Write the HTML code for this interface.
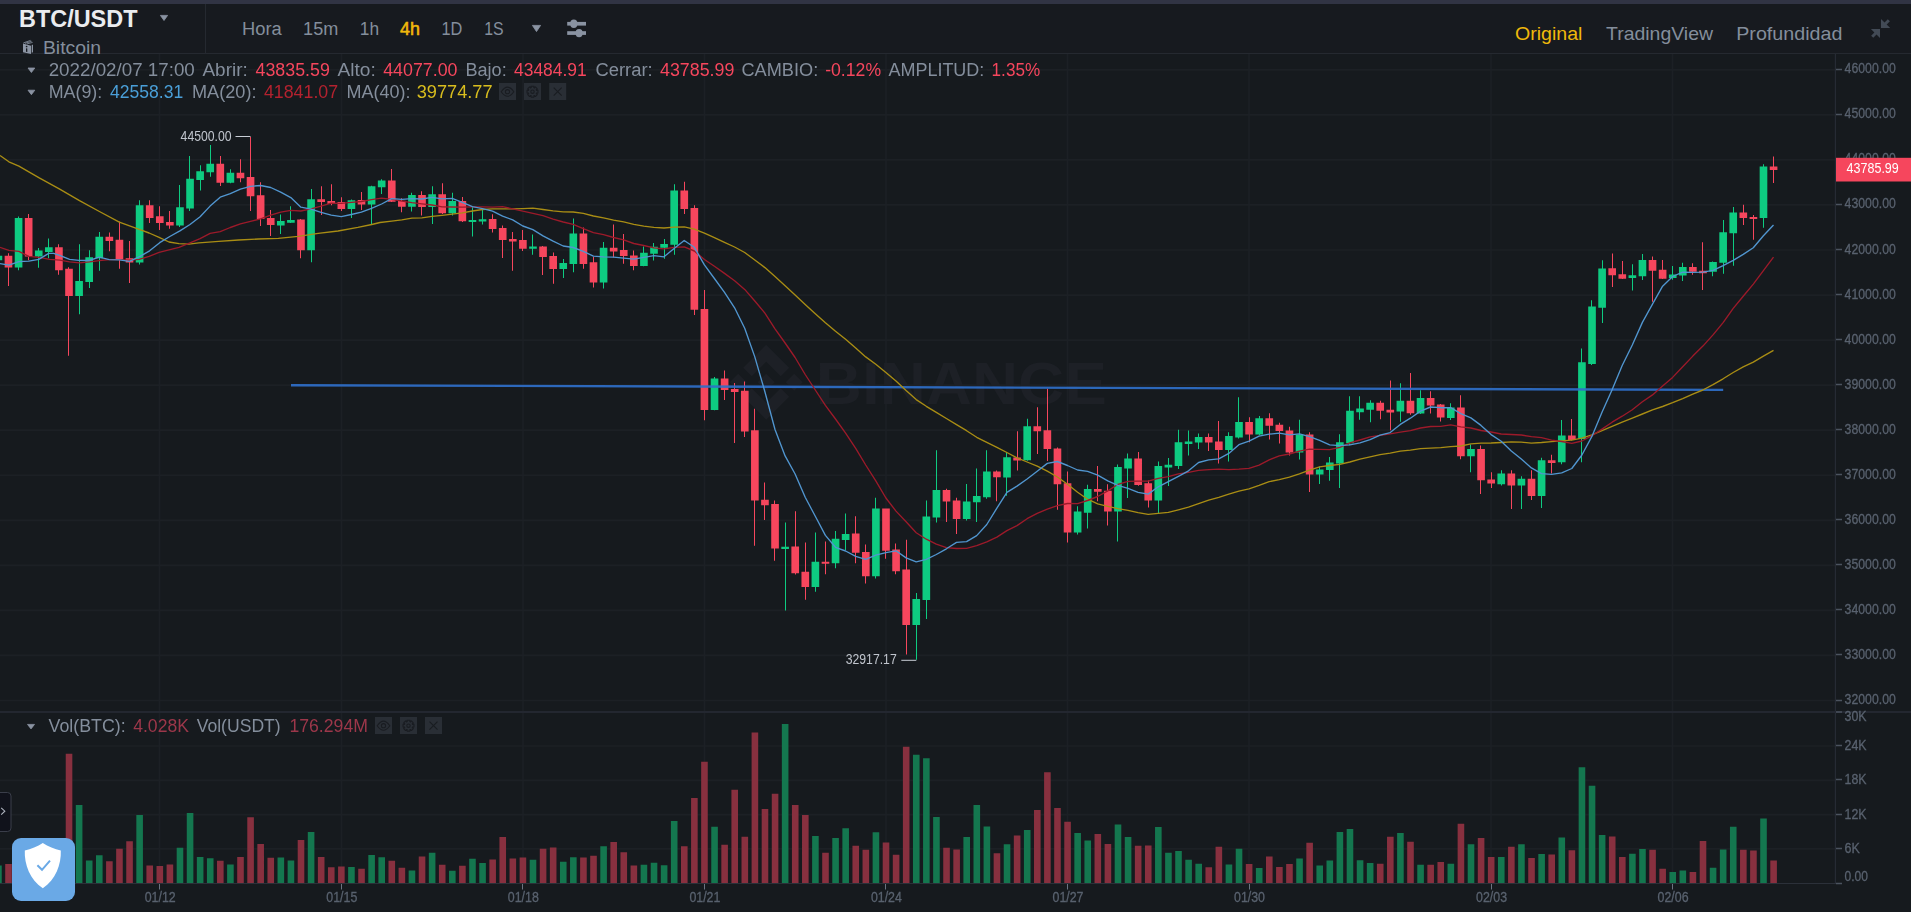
<!DOCTYPE html><html><head><meta charset="utf-8"><title>BTC/USDT</title><style>html,body{margin:0;padding:0;background:#161a1e;overflow:hidden}#c{will-change:transform}</style></head><body><svg width="1911" height="54" viewBox="0 0 1911 54" style="display:block" font-family="Liberation Sans, sans-serif">
<rect width="1911" height="54" fill="#171a1f"/>
<rect width="1911" height="4" fill="#313444"/>
<rect x="0" y="53" width="1911" height="1" fill="#252930"/>
<text x="19.0" y="26.7" font-size="24.5" fill="#eaecef" textLength="118.5" lengthAdjust="spacingAndGlyphs" font-weight="bold" >BTC/USDT</text>
<path d="M160.4 15.4L167.6 15.4L164.0 20.5Z" fill="#8a93a2" stroke="#8a93a2" stroke-width="0.8" stroke-linejoin="round"/>
<g fill="#8c95a4"><path d="M23 43.5L31 45.7V54L23 52.2Z"/><path d="M31.7 45.2L33 44.6V52.2L31.7 52.8Z"/></g><g stroke="#8c95a4" stroke-width="0.8" fill="none"><path d="M23.4 42.9L30.6 40.4M25 43.3L31.6 41.3M27 43.9L32.6 42.4"/></g><circle cx="26.6" cy="46.5" r="0.85" fill="#171a1f"/><path d="M26 48.2L27.3 48.5V52L26 51.7Z" fill="#171a1f"/>
<text x="42.9" y="53.9" font-size="18.4" fill="#848e9c" textLength="58.2" lengthAdjust="spacingAndGlyphs" >Bitcoin</text>
<rect x="205" y="4" width="1" height="49.5" fill="#252930"/>
<text x="242.0" y="35.4" font-size="18" fill="#848e9c" textLength="39.7" lengthAdjust="spacingAndGlyphs" >Hora</text>
<text x="303.1" y="35.4" font-size="18" fill="#848e9c" textLength="35.2" lengthAdjust="spacingAndGlyphs" >15m</text>
<text x="359.8" y="35.4" font-size="18" fill="#848e9c" textLength="19.3" lengthAdjust="spacingAndGlyphs" >1h</text>
<text x="400.0" y="35.4" font-size="18" fill="#f0b90b" textLength="19.9" lengthAdjust="spacingAndGlyphs" stroke="#f0b90b" stroke-width="0.55">4h</text>
<text x="441.5" y="35.4" font-size="18" fill="#848e9c" textLength="20.9" lengthAdjust="spacingAndGlyphs" >1D</text>
<text x="484.2" y="35.4" font-size="18" fill="#848e9c" textLength="19.4" lengthAdjust="spacingAndGlyphs" >1S</text>
<path d="M532.4 25.4L540.6 25.4L536.5 31.6Z" fill="#8a93a2" stroke="#8a93a2" stroke-width="0.8" stroke-linejoin="round"/>
<g fill="#8a93a2"><rect x="567.2" y="21.9" width="18.8" height="3.7"/><rect x="567.2" y="31.2" width="18.8" height="3.7"/><ellipse cx="573.8" cy="23.7" rx="3.6" ry="4.2"/><ellipse cx="579.1" cy="33.1" rx="3.6" ry="4.2"/></g>
<text x="1515.0" y="40.4" font-size="19" fill="#f0b90b" textLength="67.4" lengthAdjust="spacingAndGlyphs" >Original</text>
<text x="1606.0" y="40.4" font-size="19" fill="#848e9c" textLength="107.0" lengthAdjust="spacingAndGlyphs" >TradingView</text>
<text x="1736.2" y="40.4" font-size="19" fill="#848e9c" textLength="106.2" lengthAdjust="spacingAndGlyphs" >Profundidad</text>
<g fill="#424a55"><path d="M1881 18.9L1884.54 22.44L1887.79 19.19L1889.91 21.31L1886.66 24.56L1890.2 28H1881Z"/><path d="M1880 38.1L1876.51 34.61L1873.26 37.86L1871.14 35.74L1874.39 32.49L1870.9 29H1880Z"/></g>
</svg>
<svg id="c" width="1911" height="858" viewBox="0 54 1911 858" style="display:block" font-family="Liberation Sans, sans-serif">
<rect y="54" width="1911" height="858" fill="#161a1e"/>
<path d="M0 700.5H1835M0 655.45H1835M0 610.4H1835M0 565.35H1835M0 520.3H1835M0 475.25H1835M0 430.2H1835M0 385.15H1835M0 340.1H1835M0 295.05H1835M0 250.0H1835M0 204.95H1835M0 159.9H1835M0 114.85H1835M0 69.8H1835M0 848.9H1835M0 814.6H1835M0 780.3H1835M0 746.0H1835M159.5 54V883M341.5 54V883M523.0 54V883M704.5 54V883M886.0 54V883M1067.5 54V883M1249.0 54V883M1491.0 54V883M1672.5 54V883" stroke="#1c2025" stroke-width="1.7" fill="none"/>
<rect x="0" y="711" width="1911" height="2" fill="#232730"/>
<rect x="1834.8" y="54" width="1.2" height="830" fill="#262b34"/>
<rect x="0" y="883" width="1842" height="1" fill="#2b3039"/>
<g fill="#1d2026">
<path d="M766.2 373.7L774.7 382.2L766.2 390.7L757.7 382.2ZM738.2 373.7L746.7 382.2L738.2 390.7L729.7 382.2ZM794.2 373.7L802.7 382.2L794.2 390.7L785.7 382.2Z"/>
<path d="M766.2 344.7L789.2 367.7L780.7 376.2L766.2 361.7L751.7 376.2L743.2 367.7Z"/>
<path d="M766.2 419.7L789.2 396.7L780.7 388.2L766.2 402.7L751.7 388.2L743.2 396.7Z"/>
</g>
<text x="815.8" y="403.6" font-size="60" fill="#1d2026" textLength="291.0" lengthAdjust="spacingAndGlyphs" font-weight="bold" >BINANCE</text>
<path d="M5.21 864.1H11.81V883H5.21ZM25.39 858.2H31.99V883H25.39ZM55.65 862.1H62.25V883H55.65ZM65.73 753.8H72.33V883H65.73ZM106.08 861.2H112.68V883H106.08ZM116.16 848.8H122.76V883H116.16ZM126.25 841.3H132.85V883H126.25ZM146.42 865.5H153.02V883H146.42ZM156.51 866.1H163.11V883H156.51ZM166.59 864.5H173.19V883H166.59ZM217.02 860.8H223.62V883H217.02ZM237.20 857.0H243.80V883H237.20ZM247.28 817.2H253.88V883H247.28ZM257.37 843.9H263.97V883H257.37ZM267.46 857.8H274.06V883H267.46ZM297.71 839.9H304.31V883H297.71ZM317.89 857.0H324.49V883H317.89ZM327.97 867.3H334.57V883H327.97ZM338.06 866.5H344.66V883H338.06ZM358.23 868.7H364.83V883H358.23ZM388.49 860.8H395.09V883H388.49ZM398.58 867.7H405.18V883H398.58ZM418.75 856.6H425.35V883H418.75ZM438.92 864.7H445.52V883H438.92ZM459.09 865.7H465.69V883H459.09ZM489.35 859.6H495.95V883H489.35ZM499.44 836.9H506.04V883H499.44ZM509.52 858.6H516.12V883H509.52ZM519.61 857.4H526.21V883H519.61ZM539.78 848.8H546.38V883H539.78ZM549.87 847.6H556.47V883H549.87ZM580.13 857.6H586.73V883H580.13ZM590.21 855.8H596.81V883H590.21ZM610.39 841.9H616.99V883H610.39ZM620.47 852.2H627.07V883H620.47ZM630.56 865.5H637.16V883H630.56ZM680.99 846.2H687.59V883H680.99ZM691.08 797.9H697.68V883H691.08ZM701.16 761.7H707.76V883H701.16ZM721.33 844.8H727.93V883H721.33ZM731.42 789.8H738.02V883H731.42ZM741.51 836.7H748.11V883H741.51ZM751.59 732.5H758.19V883H751.59ZM761.68 809.1H768.28V883H761.68ZM771.77 793.7H778.37V883H771.77ZM791.94 804.9H798.54V883H791.94ZM802.02 815.0H808.62V883H802.02ZM822.20 852.8H828.80V883H822.20ZM852.45 845.8H859.05V883H852.45ZM862.54 849.8H869.14V883H862.54ZM882.71 842.5H889.31V883H882.71ZM892.80 854.8H899.40V883H892.80ZM902.89 746.8H909.49V883H902.89ZM943.23 847.8H949.83V883H943.23ZM953.32 849.4H959.92V883H953.32ZM993.66 853.2H1000.26V883H993.66ZM1013.83 835.5H1020.43V883H1013.83ZM1034.01 810.0H1040.61V883H1034.01ZM1044.09 772.3H1050.69V883H1044.09ZM1054.18 808.1H1060.78V883H1054.18ZM1064.27 821.8H1070.87V883H1064.27ZM1094.52 833.9H1101.12V883H1094.52ZM1104.61 843.9H1111.21V883H1104.61ZM1134.87 845.8H1141.47V883H1134.87ZM1144.95 845.6H1151.55V883H1144.95ZM1205.47 867.3H1212.07V883H1205.47ZM1215.56 846.8H1222.16V883H1215.56ZM1245.82 863.9H1252.42V883H1245.82ZM1265.99 856.6H1272.59V883H1265.99ZM1276.08 866.9H1282.68V883H1276.08ZM1286.16 864.1H1292.76V883H1286.16ZM1306.33 842.7H1312.93V883H1306.33ZM1376.94 863.7H1383.54V883H1376.94ZM1387.02 836.7H1393.62V883H1387.02ZM1407.20 841.7H1413.80V883H1407.20ZM1427.37 864.7H1433.97V883H1427.37ZM1437.45 861.9H1444.05V883H1437.45ZM1457.63 823.8H1464.23V883H1457.63ZM1477.80 837.9H1484.40V883H1477.80ZM1487.89 857.0H1494.49V883H1487.89ZM1508.06 846.8H1514.66V883H1508.06ZM1528.23 858.0H1534.83V883H1528.23ZM1548.40 854.6H1555.00V883H1548.40ZM1568.58 850.2H1575.18V883H1568.58ZM1608.92 836.5H1615.52V883H1608.92ZM1619.01 857.0H1625.61V883H1619.01ZM1649.26 849.8H1655.86V883H1649.26ZM1659.35 868.7H1665.95V883H1659.35ZM1689.61 871.9H1696.21V883H1689.61ZM1699.70 841.1H1706.30V883H1699.70ZM1740.04 849.8H1746.64V883H1740.04ZM1750.13 850.6H1756.73V883H1750.13ZM1770.30 860.4H1776.90V883H1770.30Z" fill="#88303f"/>
<path d="M-4.87 865.5H1.73V883H-4.87ZM15.30 854.2H21.90V883H15.30ZM35.47 866.1H42.07V883H35.47ZM45.56 868.1H52.16V883H45.56ZM75.82 805.1H82.42V883H75.82ZM85.90 860.6H92.50V883H85.90ZM95.99 855.2H102.59V883H95.99ZM136.33 815.0H142.93V883H136.33ZM176.68 847.8H183.28V883H176.68ZM186.77 813.0H193.37V883H186.77ZM196.85 857.0H203.45V883H196.85ZM206.94 858.2H213.54V883H206.94ZM227.11 864.5H233.71V883H227.11ZM277.54 857.6H284.14V883H277.54ZM287.63 860.6H294.23V883H287.63ZM307.80 831.9H314.40V883H307.80ZM348.14 867.1H354.74V883H348.14ZM368.32 855.0H374.92V883H368.32ZM378.40 857.2H385.00V883H378.40ZM408.66 870.5H415.26V883H408.66ZM428.83 852.8H435.43V883H428.83ZM449.01 870.7H455.61V883H449.01ZM469.18 858.8H475.78V883H469.18ZM479.27 863.1H485.87V883H479.27ZM529.70 859.8H536.30V883H529.70ZM559.96 861.7H566.56V883H559.96ZM570.04 857.2H576.64V883H570.04ZM600.30 846.2H606.90V883H600.30ZM640.64 864.7H647.24V883H640.64ZM650.73 862.7H657.33V883H650.73ZM660.82 865.3H667.42V883H660.82ZM670.90 821.0H677.50V883H670.90ZM711.25 826.8H717.85V883H711.25ZM781.85 723.9H788.45V883H781.85ZM812.11 835.9H818.71V883H812.11ZM832.28 837.9H838.88V883H832.28ZM842.37 828.3H848.97V883H842.37ZM872.63 832.3H879.23V883H872.63ZM912.97 754.8H919.57V883H912.97ZM923.06 758.3H929.66V883H923.06ZM933.14 817.0H939.74V883H933.14ZM963.40 836.9H970.00V883H963.40ZM973.49 805.1H980.09V883H973.49ZM983.58 826.4H990.18V883H983.58ZM1003.75 844.3H1010.35V883H1003.75ZM1023.92 829.9H1030.52V883H1023.92ZM1074.35 832.9H1080.95V883H1074.35ZM1084.44 840.5H1091.04V883H1084.44ZM1114.70 824.4H1121.30V883H1114.70ZM1124.78 836.9H1131.38V883H1124.78ZM1155.04 827.0H1161.64V883H1155.04ZM1165.13 852.8H1171.73V883H1165.13ZM1175.21 851.0H1181.81V883H1175.21ZM1185.30 859.8H1191.90V883H1185.30ZM1195.39 863.7H1201.99V883H1195.39ZM1225.64 864.5H1232.24V883H1225.64ZM1235.73 848.8H1242.33V883H1235.73ZM1255.90 867.9H1262.50V883H1255.90ZM1296.25 858.4H1302.85V883H1296.25ZM1316.42 865.5H1323.02V883H1316.42ZM1326.51 860.6H1333.11V883H1326.51ZM1336.59 831.9H1343.19V883H1336.59ZM1346.68 828.9H1353.28V883H1346.68ZM1356.76 860.2H1363.37V883H1356.76ZM1366.85 862.9H1373.45V883H1366.85ZM1397.11 832.9H1403.71V883H1397.11ZM1417.28 864.7H1423.88V883H1417.28ZM1447.54 863.7H1454.14V883H1447.54ZM1467.71 844.3H1474.31V883H1467.71ZM1497.97 857.0H1504.57V883H1497.97ZM1518.14 844.3H1524.74V883H1518.14ZM1538.32 854.0H1544.92V883H1538.32ZM1558.49 837.5H1565.09V883H1558.49ZM1578.66 767.3H1585.26V883H1578.66ZM1588.75 785.8H1595.35V883H1588.75ZM1598.83 835.1H1605.43V883H1598.83ZM1629.09 853.8H1635.69V883H1629.09ZM1639.18 849.0H1645.78V883H1639.18ZM1669.44 871.9H1676.04V883H1669.44ZM1679.52 870.5H1686.12V883H1679.52ZM1709.78 867.7H1716.38V883H1709.78ZM1719.87 849.6H1726.47V883H1719.87ZM1729.95 826.8H1736.55V883H1729.95ZM1760.21 818.4H1766.81V883H1760.21Z" fill="#14774f"/>
<path d="M8 253.3h1V286.1h-1Z M4.66 255.7h7.65V267.6h-7.65ZM28 214.1h1V260.2h-1Z M24.84 218.1h7.65V256.5h-7.65ZM58 244.3h1V274.8h-1Z M55.10 247.3h7.65V270.2h-7.65ZM68 267.2h1V355.7h-1Z M65.18 268.8h7.65V296.0h-7.65ZM109 232.4h1V251.3h-1Z M105.53 236.8h7.65V241.0h-7.65ZM119 221.5h1V268.8h-1Z M115.61 239.8h7.65V259.3h-7.65ZM129 241.0h1V283.1h-1Z M125.70 258.3h7.65V262.6h-7.65ZM149 200.2h1V223.1h-1Z M145.87 205.2h7.65V217.9h-7.65ZM159 206.2h1V230.0h-1Z M155.96 216.3h7.65V223.1h-7.65ZM169 210.9h1V228.8h-1Z M166.04 221.9h7.65V225.4h-7.65ZM220 155.9h1V186.1h-1Z M216.47 163.8h7.65V182.7h-7.65ZM240 159.2h1V182.3h-1Z M236.65 172.8h7.65V178.3h-7.65ZM250 137.0h1V210.9h-1Z M246.73 177.1h7.65V196.2h-7.65ZM260 182.3h1V226.0h-1Z M256.82 195.2h7.65V218.9h-7.65ZM270 210.1h1V236.0h-1Z M266.91 217.9h7.65V225.0h-7.65ZM300 218.9h1V258.3h-1Z M297.16 219.5h7.65V250.3h-7.65ZM321 186.3h1V215.1h-1Z M317.34 199.2h7.65V202.0h-7.65ZM331 184.3h1V205.2h-1Z M327.42 201.0h7.65V204.0h-7.65ZM341 197.2h1V211.1h-1Z M337.51 202.0h7.65V208.9h-7.65ZM361 192.0h1V210.1h-1Z M357.68 200.0h7.65V204.6h-7.65ZM391 168.9h1V202.1h-1Z M387.94 180.4h7.65V201.7h-7.65ZM401 198.3h1V212.2h-1Z M398.03 200.7h7.65V206.7h-7.65ZM421 191.2h1V215.6h-1Z M418.20 195.1h7.65V207.1h-7.65ZM442 183.2h1V214.0h-1Z M438.37 194.3h7.65V213.2h-7.65ZM462 197.1h1V222.0h-1Z M458.54 201.1h7.65V221.2h-7.65ZM492 214.2h1V232.5h-1Z M488.80 219.0h7.65V228.9h-7.65ZM502 225.6h1V258.0h-1Z M498.89 227.9h7.65V239.9h-7.65ZM512 232.1h1V270.7h-1Z M508.97 238.9h7.65V241.5h-7.65ZM522 230.1h1V251.0h-1Z M519.06 240.1h7.65V248.8h-7.65ZM542 246.0h1V274.9h-1Z M539.23 246.4h7.65V257.0h-7.65ZM553 252.4h1V283.8h-1Z M549.32 256.0h7.65V268.9h-7.65ZM583 227.6h1V268.7h-1Z M579.58 233.5h7.65V263.9h-7.65ZM593 256.8h1V287.6h-1Z M589.66 262.3h7.65V282.6h-7.65ZM613 224.6h1V257.4h-1Z M609.84 247.8h7.65V251.4h-7.65ZM623 233.9h1V263.7h-1Z M619.92 250.0h7.65V256.0h-7.65ZM633 250.4h1V270.3h-1Z M630.01 255.4h7.65V265.9h-7.65ZM684 181.8h1V214.0h-1Z M680.44 190.4h7.65V209.1h-7.65ZM694 205.3h1V315.0h-1Z M690.53 208.1h7.65V309.7h-7.65ZM704 290.0h1V420.2h-1Z M700.61 308.9h7.65V409.9h-7.65ZM724 370.5h1V400.0h-1Z M720.78 378.5h7.65V390.0h-7.65ZM734 383.1h1V443.1h-1Z M730.87 389.0h7.65V392.0h-7.65ZM744 381.5h1V437.1h-1Z M740.96 390.8h7.65V431.6h-7.65ZM754 408.7h1V545.8h-1Z M751.04 430.2h7.65V500.6h-7.65ZM764 482.4h1V520.1h-1Z M761.13 499.7h7.65V505.2h-7.65ZM774 500.6h1V560.7h-1Z M771.22 504.0h7.65V548.4h-7.65ZM795 511.2h1V574.6h-1Z M791.39 546.4h7.65V573.2h-7.65ZM805 542.4h1V599.7h-1Z M801.47 571.8h7.65V587.1h-7.65ZM825 541.4h1V574.2h-1Z M821.65 561.7h7.65V563.7h-7.65ZM855 516.2h1V563.3h-1Z M851.90 533.5h7.65V552.7h-7.65ZM865 544.4h1V583.6h-1Z M861.99 552.0h7.65V576.2h-7.65ZM885 508.6h1V558.7h-1Z M882.16 508.6h7.65V550.8h-7.65ZM895 543.4h1V574.2h-1Z M892.25 549.4h7.65V571.2h-7.65ZM906 539.8h1V654.4h-1Z M902.34 569.6h7.65V624.9h-7.65ZM946 488.7h1V522.1h-1Z M942.68 490.1h7.65V501.6h-7.65ZM956 497.7h1V533.9h-1Z M952.77 500.6h7.65V518.9h-7.65ZM996 470.4h1V501.2h-1Z M993.11 471.4h7.65V477.2h-7.65ZM1017 431.2h1V470.4h-1Z M1013.28 457.5h7.65V460.5h-7.65ZM1037 407.3h1V454.0h-1Z M1033.46 426.2h7.65V431.2h-7.65ZM1047 388.8h1V461.0h-1Z M1043.54 430.2h7.65V449.1h-7.65ZM1057 447.6h1V509.8h-1Z M1053.63 448.5h7.65V484.3h-7.65ZM1067 471.4h1V542.6h-1Z M1063.72 483.3h7.65V532.5h-7.65ZM1097 466.0h1V501.2h-1Z M1093.97 488.9h7.65V491.7h-7.65ZM1107 484.3h1V525.5h-1Z M1104.06 490.7h7.65V511.6h-7.65ZM1138 452.1h1V485.7h-1Z M1134.32 458.5h7.65V484.9h-7.65ZM1148 480.4h1V507.6h-1Z M1144.40 483.3h7.65V500.6h-7.65ZM1208 433.6h1V450.9h-1Z M1204.92 437.0h7.65V442.6h-7.65ZM1218 421.1h1V463.5h-1Z M1215.01 441.6h7.65V450.1h-7.65ZM1249 417.3h1V442.2h-1Z M1245.27 422.1h7.65V434.6h-7.65ZM1269 413.3h1V439.6h-1Z M1265.44 418.3h7.65V425.7h-7.65ZM1279 422.7h1V443.6h-1Z M1275.53 424.7h7.65V431.0h-7.65ZM1289 426.7h1V455.5h-1Z M1285.61 430.6h7.65V452.5h-7.65ZM1309 432.2h1V491.9h-1Z M1305.78 434.6h7.65V474.4h-7.65ZM1380 400.8h1V419.3h-1Z M1376.39 402.8h7.65V410.8h-7.65ZM1390 380.5h1V430.3h-1Z M1386.47 409.8h7.65V412.4h-7.65ZM1410 373.0h1V414.7h-1Z M1406.65 400.8h7.65V413.3h-7.65ZM1430 391.3h1V413.6h-1Z M1426.82 398.1h7.65V405.6h-7.65ZM1440 404.0h1V421.5h-1Z M1436.90 404.6h7.65V417.6h-7.65ZM1460 395.3h1V459.3h-1Z M1457.08 407.6h7.65V456.3h-7.65ZM1480 445.4h1V494.1h-1Z M1477.25 449.0h7.65V480.2h-7.65ZM1491 472.2h1V488.1h-1Z M1487.34 479.6h7.65V483.6h-7.65ZM1511 470.2h1V509.0h-1Z M1507.51 473.6h7.65V485.6h-7.65ZM1531 470.2h1V500.1h-1Z M1527.68 478.8h7.65V496.1h-7.65ZM1551 454.7h1V473.6h-1Z M1547.85 460.3h7.65V462.9h-7.65ZM1571 419.1h1V440.4h-1Z M1568.03 435.4h7.65V440.0h-7.65ZM1612 253.5h1V287.0h-1Z M1608.37 268.3h7.65V275.2h-7.65ZM1622 261.0h1V279.1h-1Z M1618.46 274.2h7.65V278.7h-7.65ZM1652 256.4h1V301.8h-1Z M1648.71 260.0h7.65V270.8h-7.65ZM1662 260.0h1V279.1h-1Z M1658.80 269.7h7.65V278.7h-7.65ZM1692 263.3h1V274.8h-1Z M1689.06 266.9h7.65V271.8h-7.65ZM1702 242.2h1V290.0h-1Z M1699.15 270.8h7.65V273.2h-7.65ZM1743 204.7h1V224.9h-1Z M1739.49 212.4h7.65V218.0h-7.65ZM1753 215.0h1V239.7h-1Z M1749.58 217.0h7.65V218.9h-7.65ZM1773 156.4h1V183.0h-1Z M1769.75 166.6h7.65V170.0h-7.65Z" fill="#f6465d"/>
<path d="M-2 255.7h1V260.2h-1Z M-5.42 255.7h7.65V260.2h-7.65ZM18 216.5h1V270.2h-1Z M14.75 218.1h7.65V267.6h-7.65ZM38 247.9h1V267.8h-1Z M34.92 250.5h7.65V256.5h-7.65ZM48 238.4h1V258.3h-1Z M45.01 247.3h7.65V252.1h-7.65ZM79 244.3h1V314.3h-1Z M75.27 281.1h7.65V296.0h-7.65ZM89 250.3h1V288.1h-1Z M85.35 257.3h7.65V282.1h-7.65ZM99 232.0h1V270.8h-1Z M95.44 236.8h7.65V258.3h-7.65ZM139 200.2h1V264.6h-1Z M135.78 205.2h7.65V262.6h-7.65ZM179 185.1h1V227.0h-1Z M176.13 207.2h7.65V225.4h-7.65ZM189 155.9h1V210.9h-1Z M186.22 178.7h7.65V208.5h-7.65ZM200 165.2h1V190.6h-1Z M196.30 171.2h7.65V180.1h-7.65ZM210 144.9h1V176.7h-1Z M206.39 163.8h7.65V172.2h-7.65ZM230 169.2h1V183.3h-1Z M226.56 172.8h7.65V182.7h-7.65ZM280 214.5h1V234.0h-1Z M276.99 221.1h7.65V225.4h-7.65ZM290 206.2h1V223.1h-1Z M287.08 219.9h7.65V222.7h-7.65ZM311 189.1h1V262.2h-1Z M307.25 199.2h7.65V250.3h-7.65ZM351 199.6h1V217.9h-1Z M347.59 200.2h7.65V208.9h-7.65ZM371 185.7h1V224.5h-1Z M367.77 186.3h7.65V204.6h-7.65ZM381 179.2h1V194.1h-1Z M377.85 180.4h7.65V187.2h-7.65ZM411 192.8h1V211.6h-1Z M408.11 195.1h7.65V206.7h-7.65ZM432 186.2h1V224.0h-1Z M428.28 194.3h7.65V207.1h-7.65ZM452 192.8h1V215.6h-1Z M448.46 201.1h7.65V213.2h-7.65ZM472 206.3h1V236.5h-1Z M468.63 220.0h7.65V222.0h-7.65ZM482 208.7h1V224.6h-1Z M478.72 219.2h7.65V221.6h-7.65ZM532 234.5h1V254.8h-1Z M529.15 246.4h7.65V248.8h-7.65ZM563 259.0h1V277.9h-1Z M559.41 262.9h7.65V268.9h-7.65ZM573 218.6h1V272.3h-1Z M569.49 233.5h7.65V263.9h-7.65ZM603 241.9h1V288.6h-1Z M599.75 247.8h7.65V282.6h-7.65ZM643 246.4h1V266.3h-1Z M640.09 252.8h7.65V265.9h-7.65ZM653 243.1h1V260.4h-1Z M650.18 246.8h7.65V253.8h-7.65ZM664 239.1h1V258.8h-1Z M660.27 243.9h7.65V247.8h-7.65ZM674 184.2h1V254.8h-1Z M670.35 190.4h7.65V244.8h-7.65ZM714 376.9h1V410.3h-1Z M710.70 378.5h7.65V409.9h-7.65ZM785 522.5h1V610.4h-1Z M781.30 546.8h7.65V549.0h-7.65ZM815 532.5h1V591.7h-1Z M811.56 561.7h7.65V587.1h-7.65ZM835 531.1h1V568.3h-1Z M831.73 538.8h7.65V563.3h-7.65ZM845 513.6h1V550.0h-1Z M841.82 533.9h7.65V540.0h-7.65ZM875 497.7h1V578.6h-1Z M872.08 508.6h7.65V576.2h-7.65ZM916 593.0h1V659.8h-1Z M912.42 599.1h7.65V624.9h-7.65ZM926 500.6h1V619.0h-1Z M922.51 516.6h7.65V600.1h-7.65ZM936 450.3h1V522.5h-1Z M932.59 490.1h7.65V517.6h-7.65ZM966 484.1h1V520.5h-1Z M962.85 501.6h7.65V519.1h-7.65ZM976 468.4h1V521.9h-1Z M972.94 496.1h7.65V502.2h-7.65ZM986 450.3h1V498.7h-1Z M983.03 471.4h7.65V497.3h-7.65ZM1006 451.9h1V495.7h-1Z M1003.20 457.3h7.65V477.4h-7.65ZM1027 418.7h1V460.7h-1Z M1023.37 426.2h7.65V460.3h-7.65ZM1077 506.2h1V534.4h-1Z M1073.80 511.6h7.65V532.5h-7.65ZM1087 484.7h1V528.5h-1Z M1083.89 488.9h7.65V512.8h-7.65ZM1117 464.5h1V541.4h-1Z M1114.15 467.0h7.65V511.6h-7.65ZM1127 453.5h1V497.9h-1Z M1124.23 458.5h7.65V468.4h-7.65ZM1158 461.5h1V513.2h-1Z M1154.49 466.0h7.65V500.6h-7.65ZM1168 458.1h1V485.9h-1Z M1164.58 464.8h7.65V467.4h-7.65ZM1178 429.7h1V469.0h-1Z M1174.66 442.2h7.65V466.0h-7.65ZM1188 430.6h1V455.5h-1Z M1184.75 441.6h7.65V444.0h-7.65ZM1198 433.6h1V448.9h-1Z M1194.84 437.0h7.65V442.6h-7.65ZM1228 432.2h1V461.5h-1Z M1225.09 436.0h7.65V450.1h-7.65ZM1238 397.2h1V438.6h-1Z M1235.18 422.1h7.65V437.6h-7.65ZM1259 416.1h1V435.2h-1Z M1255.35 418.3h7.65V434.6h-7.65ZM1299 419.7h1V459.5h-1Z M1295.70 434.6h7.65V452.5h-7.65ZM1319 466.4h1V483.9h-1Z M1315.87 469.4h7.65V474.4h-7.65ZM1329 456.9h1V480.8h-1Z M1325.96 462.5h7.65V470.0h-7.65ZM1339 434.2h1V487.9h-1Z M1336.04 442.2h7.65V463.5h-7.65ZM1349 396.2h1V445.2h-1Z M1346.13 410.8h7.65V443.2h-7.65ZM1359 396.2h1V419.7h-1Z M1356.21 408.4h7.65V412.2h-7.65ZM1370 400.2h1V422.3h-1Z M1366.30 402.8h7.65V409.8h-7.65ZM1400 383.3h1V421.7h-1Z M1396.56 400.8h7.65V411.4h-7.65ZM1420 390.3h1V414.0h-1Z M1416.73 398.1h7.65V413.6h-7.65ZM1450 403.2h1V420.1h-1Z M1446.99 407.6h7.65V417.9h-7.65ZM1470 444.4h1V472.2h-1Z M1467.16 449.0h7.65V456.3h-7.65ZM1501 470.2h1V485.6h-1Z M1497.42 473.6h7.65V484.2h-7.65ZM1521 476.2h1V509.0h-1Z M1517.59 478.8h7.65V485.6h-7.65ZM1541 457.7h1V508.0h-1Z M1537.77 460.3h7.65V496.1h-7.65ZM1561 420.1h1V464.3h-1Z M1557.94 435.4h7.65V462.3h-7.65ZM1581 348.4h1V462.3h-1Z M1578.11 362.3h7.65V439.0h-7.65ZM1591 300.3h1V365.1h-1Z M1588.20 306.6h7.65V364.1h-7.65ZM1602 260.3h1V323.0h-1Z M1598.28 268.4h7.65V307.8h-7.65ZM1632 264.3h1V290.6h-1Z M1628.54 275.2h7.65V278.1h-7.65ZM1642 254.1h1V280.1h-1Z M1638.63 260.0h7.65V276.2h-7.65ZM1672 265.9h1V279.7h-1Z M1668.89 274.6h7.65V278.1h-7.65ZM1682 262.8h1V281.1h-1Z M1678.97 266.9h7.65V275.6h-7.65ZM1712 261.4h1V276.2h-1Z M1709.23 262.0h7.65V271.8h-7.65ZM1723 219.9h1V273.8h-1Z M1719.32 232.2h7.65V262.8h-7.65ZM1733 207.1h1V265.7h-1Z M1729.40 212.4h7.65V233.2h-7.65ZM1763 164.3h1V227.8h-1Z M1759.66 166.6h7.65V218.0h-7.65Z" fill="#0ecb81"/>
<path d="M291 385.2L1723.2 389.9" stroke="#2f6fc9" stroke-width="2.4" fill="none" opacity="0.92"/>
<path d="M0.0 155.5L8.9 161.8L18.9 166.2L38.8 177.7L59.7 189.1L79.5 200.6L99.4 211.5L119.3 222.1L139.2 229.4L149.1 233.0L159.1 237.4L169.0 242.0L179.0 243.7L188.9 244.1L198.8 242.9L218.7 241.4L238.6 240.0L258.5 239.0L278.4 238.4L298.3 236.4L318.2 233.4L338.0 231.0L357.9 227.4L371.8 224.5L380.0 222.5L391.7 221.1L401.8 219.9L411.9 218.1L421.9 217.8L432.0 216.3L442.1 215.3L452.2 214.2L462.3 212.9L472.4 211.0L482.5 209.5L492.6 208.8L502.6 208.9L512.7 208.9L522.8 208.6L532.9 208.2L543.0 209.5L553.1 210.8L563.2 211.8L573.2 212.0L583.3 213.4L593.4 216.0L603.5 217.9L613.6 220.1L623.7 221.9L633.8 224.3L643.8 226.1L653.9 227.4L664.0 228.0L674.1 227.1L684.2 226.8L694.3 229.1L704.4 233.1L714.4 237.6L724.5 242.3L734.6 247.0L744.7 252.5L754.8 260.0L764.9 267.6L775.0 276.6L785.1 285.8L795.1 295.1L805.2 304.6L815.3 313.7L825.4 322.7L835.5 331.3L845.6 339.3L855.7 348.1L865.7 356.9L875.8 364.2L885.9 372.4L896.0 381.0L906.1 390.6L916.2 399.6L926.3 406.3L936.3 412.4L946.4 418.5L956.5 424.7L966.6 430.7L976.7 437.3L986.8 442.4L996.9 447.3L1006.9 452.5L1017.0 457.8L1027.1 462.0L1037.2 466.2L1047.3 471.1L1057.4 477.0L1067.5 484.2L1077.6 492.2L1087.6 499.2L1097.7 503.8L1107.8 506.3L1117.9 508.6L1128.0 510.3L1138.1 512.6L1148.2 514.3L1158.2 513.4L1168.3 512.4L1178.4 509.8L1188.5 507.2L1198.6 503.7L1208.7 500.1L1218.8 497.3L1228.8 494.2L1238.9 491.2L1249.0 488.8L1259.1 485.4L1269.2 481.6L1279.3 479.7L1289.4 477.2L1299.4 473.8L1309.5 470.1L1319.6 466.8L1329.7 465.5L1339.8 464.3L1349.9 462.0L1360.0 459.2L1370.1 456.8L1380.1 454.6L1390.2 453.1L1400.3 451.2L1410.4 450.1L1420.5 448.6L1430.6 448.1L1440.7 447.7L1450.7 446.7L1460.8 446.0L1470.9 443.9L1481.0 443.1L1491.1 443.0L1501.2 442.5L1511.3 441.9L1521.3 442.2L1531.4 443.1L1541.5 442.5L1551.6 441.6L1561.7 440.8L1571.8 440.2L1581.9 438.2L1591.9 434.8L1602.0 430.6L1612.1 426.4L1622.2 422.1L1632.3 418.1L1642.4 414.0L1652.5 409.9L1662.6 406.5L1672.6 402.7L1682.7 398.6L1692.8 394.1L1702.9 390.0L1713.0 384.7L1723.1 378.8L1733.2 372.5L1743.2 366.9L1753.3 362.1L1763.4 356.1L1773.5 350.3" stroke="#a98d14" stroke-width="1.35" fill="none" stroke-linejoin="round"/>
<path d="M0.0 247.3L8.9 250.3L18.9 251.3L28.8 256.3L38.8 257.3L49.7 259.3L59.7 260.2L69.6 261.8L79.5 262.8L89.5 261.8L99.4 260.6L109.4 259.6L119.3 259.6L129.3 260.2L139.2 259.3L149.1 256.3L159.1 252.3L169.0 249.9L179.0 247.3L190.0 242.9L200.1 238.6L210.1 233.4L220.2 231.7L230.3 227.5L240.4 223.9L250.5 221.3L260.6 218.8L270.7 215.2L280.7 212.2L290.8 210.3L300.9 211.0L311.0 208.9L321.1 206.1L331.2 203.1L341.3 203.3L351.3 202.4L361.4 201.5L371.5 199.6L381.6 198.2L391.7 199.4L401.8 201.1L411.9 202.7L421.9 203.9L432.0 205.0L442.1 206.8L452.2 207.0L462.3 207.1L472.4 206.9L482.5 206.8L492.6 207.2L502.6 206.7L512.7 208.8L522.8 211.2L532.9 213.3L543.0 215.7L553.1 219.1L563.2 222.0L573.2 224.4L583.3 228.6L593.4 232.6L603.5 234.7L613.6 237.5L623.7 239.9L633.8 243.5L643.8 245.5L653.9 247.8L664.0 248.9L674.1 247.4L684.2 246.9L694.3 251.0L704.4 259.5L714.4 266.3L724.5 273.4L734.6 280.7L744.7 289.4L754.8 301.0L764.9 313.1L775.0 328.8L785.1 343.0L795.1 357.5L805.2 374.5L815.3 390.0L825.4 405.4L835.5 419.0L845.6 433.1L855.7 448.4L865.7 465.0L875.8 480.9L885.9 498.0L896.0 511.1L906.1 521.8L916.2 532.8L926.3 539.2L936.3 544.1L946.4 547.6L956.5 548.5L966.6 548.3L976.7 545.7L986.8 541.9L996.9 537.1L1006.9 530.6L1017.0 525.6L1027.1 518.7L1037.2 513.3L1047.3 509.1L1057.4 505.6L1067.5 503.5L1077.6 503.6L1087.6 500.5L1097.7 496.5L1107.8 490.9L1117.9 484.3L1128.0 481.4L1138.1 481.1L1148.2 481.1L1158.2 478.4L1168.3 476.6L1178.4 473.9L1188.5 472.4L1198.6 470.4L1208.7 469.6L1218.8 469.1L1228.8 469.6L1238.9 469.2L1249.0 468.4L1259.1 465.1L1269.2 459.8L1279.3 455.8L1289.4 454.0L1299.4 451.1L1309.5 449.2L1319.6 449.4L1329.7 449.6L1339.8 447.4L1349.9 442.9L1360.0 440.0L1370.1 436.9L1380.1 435.4L1390.2 433.9L1400.3 432.1L1410.4 430.6L1420.5 428.0L1430.6 426.5L1440.7 426.3L1450.7 424.9L1460.8 426.8L1470.9 428.0L1481.0 430.5L1491.1 432.0L1501.2 434.0L1511.3 434.5L1521.3 435.0L1531.4 436.7L1541.5 437.6L1551.6 440.2L1561.7 441.5L1571.8 443.4L1581.9 441.0L1591.9 435.7L1602.0 429.1L1612.1 422.2L1622.2 416.2L1632.3 409.7L1642.4 401.8L1652.5 394.9L1662.6 386.1L1672.6 377.4L1682.7 366.7L1692.8 356.1L1702.9 346.1L1713.0 334.9L1723.1 322.6L1733.2 308.4L1743.2 296.3L1753.3 284.1L1763.4 270.6L1773.5 257.1" stroke="#9c1a2a" stroke-width="1.35" fill="none" stroke-linejoin="round"/>
<path d="M0.0 263.6L8.9 265.2L18.9 261.6L28.8 261.2L38.8 259.3L48.7 253.3L53.7 253.3L59.7 255.3L69.6 259.3L79.0 260.3L89.1 260.5L99.2 257.1L109.3 259.6L119.4 259.9L129.4 261.3L139.5 256.6L149.6 250.8L159.7 242.7L169.8 236.5L179.9 230.9L190.0 224.5L200.1 216.7L210.1 206.1L220.2 197.2L230.3 193.6L240.4 189.2L250.5 186.3L260.6 185.5L270.7 187.5L280.7 192.2L290.8 197.6L300.9 207.2L311.0 209.1L321.1 212.3L331.2 215.2L341.3 216.6L351.3 214.5L361.4 212.2L371.5 208.4L381.6 204.0L391.7 198.6L401.8 199.4L411.9 198.7L421.9 199.0L432.0 197.4L442.1 198.8L452.2 198.4L462.3 202.3L472.4 206.7L482.5 208.7L492.6 211.1L502.6 216.1L512.7 219.9L522.8 226.0L532.9 229.7L543.0 235.9L553.1 241.2L563.2 246.0L573.2 247.5L583.3 251.4L593.4 256.2L603.5 256.9L613.6 257.2L623.7 258.2L633.8 259.2L643.8 257.4L653.9 255.7L664.0 256.8L674.1 248.6L684.2 240.5L694.3 247.3L704.4 264.9L714.4 278.5L724.5 292.3L734.6 307.8L744.7 328.3L754.8 356.9L764.9 391.8L775.0 429.5L785.1 455.9L795.1 474.0L805.2 497.2L815.3 516.3L825.4 535.4L835.5 547.3L845.6 551.0L855.7 556.3L865.7 559.4L875.8 555.1L885.9 552.6L896.0 550.8L906.1 557.9L916.2 561.8L926.3 559.3L936.3 554.5L946.4 548.8L956.5 542.4L966.6 541.7L976.7 535.6L986.8 524.5L996.9 508.1L1006.9 492.3L1017.0 486.1L1027.1 479.0L1037.2 471.2L1047.3 463.4L1057.4 461.5L1067.5 465.5L1077.6 470.0L1087.6 471.3L1097.7 475.1L1107.8 480.8L1117.9 485.3L1128.0 488.4L1138.1 492.3L1148.2 494.1L1158.2 486.8L1168.3 481.6L1178.4 476.4L1188.5 470.8L1198.6 462.5L1208.7 459.8L1218.8 458.9L1228.8 453.4L1238.9 444.7L1249.0 441.2L1259.1 436.1L1269.2 434.2L1279.3 433.1L1289.4 434.8L1299.4 433.9L1309.5 436.6L1319.6 440.3L1329.7 444.8L1339.8 445.6L1349.9 444.8L1360.0 442.9L1370.1 439.7L1380.1 435.1L1390.2 432.6L1400.3 424.4L1410.4 418.2L1420.5 411.1L1430.6 407.0L1440.7 407.7L1450.7 407.7L1460.8 413.6L1470.9 417.9L1481.0 425.4L1491.1 434.6L1501.2 441.3L1511.3 451.0L1521.3 459.1L1531.4 467.9L1541.5 473.7L1551.6 474.4L1561.7 472.9L1571.8 468.5L1581.9 455.0L1591.9 436.4L1602.0 412.3L1612.1 389.7L1622.2 365.5L1632.3 345.0L1642.4 322.4L1652.5 304.1L1662.6 286.2L1672.6 276.5L1682.7 272.1L1692.8 272.4L1702.9 272.2L1713.0 270.4L1723.1 265.6L1733.2 260.3L1743.2 254.4L1753.3 247.8L1763.4 235.8L1773.5 225.0" stroke="#5196d0" stroke-width="1.35" fill="none" stroke-linejoin="round"/>
<text x="180.6" y="140.6" font-size="14.4" fill="#c0c5cd" textLength="51.0" lengthAdjust="spacingAndGlyphs" >44500.00</text>
<rect x="235.5" y="136" width="15" height="1" fill="#c9ced6"/>
<text x="845.7" y="664.4" font-size="14.4" fill="#c0c5cd" textLength="51.0" lengthAdjust="spacingAndGlyphs" >32917.17</text>
<rect x="901.3" y="659.8" width="15" height="1" fill="#c9ced6"/>
<path d="M28.0 68.0L34.8 68.0L31.4 72.5Z" fill="#8a93a2" stroke="#8a93a2" stroke-width="0.8" stroke-linejoin="round"/>
<path d="M28.0 90.2L34.8 90.2L31.4 94.7Z" fill="#8a93a2" stroke="#8a93a2" stroke-width="0.8" stroke-linejoin="round"/>
<text x="48.7" y="76.0" font-size="18" fill="#848e9c" textLength="146.1" lengthAdjust="spacingAndGlyphs" >2022/02/07 17:00</text>
<text x="202.5" y="76.0" font-size="18" fill="#848e9c" textLength="45.2" lengthAdjust="spacingAndGlyphs" >Abrir:</text>
<text x="255.5" y="76.0" font-size="18" fill="#f6465d" textLength="74.3" lengthAdjust="spacingAndGlyphs" >43835.59</text>
<text x="337.5" y="76.0" font-size="18" fill="#848e9c" textLength="38.3" lengthAdjust="spacingAndGlyphs" >Alto:</text>
<text x="383.2" y="76.0" font-size="18" fill="#f6465d" textLength="74.3" lengthAdjust="spacingAndGlyphs" >44077.00</text>
<text x="465.5" y="76.0" font-size="18" fill="#848e9c" textLength="41.2" lengthAdjust="spacingAndGlyphs" >Bajo:</text>
<text x="514.0" y="76.0" font-size="18" fill="#f6465d" textLength="72.7" lengthAdjust="spacingAndGlyphs" >43484.91</text>
<text x="595.4" y="76.0" font-size="18" fill="#848e9c" textLength="57.3" lengthAdjust="spacingAndGlyphs" >Cerrar:</text>
<text x="660.0" y="76.0" font-size="18" fill="#f6465d" textLength="74.4" lengthAdjust="spacingAndGlyphs" >43785.99</text>
<text x="741.5" y="76.0" font-size="18" fill="#848e9c" textLength="76.7" lengthAdjust="spacingAndGlyphs" >CAMBIO:</text>
<text x="825.2" y="76.0" font-size="18" fill="#f6465d" textLength="55.9" lengthAdjust="spacingAndGlyphs" >-0.12%</text>
<text x="888.5" y="76.0" font-size="18" fill="#848e9c" textLength="95.8" lengthAdjust="spacingAndGlyphs" >AMPLITUD:</text>
<text x="991.6" y="76.0" font-size="18" fill="#f6465d" textLength="48.6" lengthAdjust="spacingAndGlyphs" >1.35%</text>
<text x="48.7" y="98.0" font-size="18" fill="#848e9c" textLength="53.6" lengthAdjust="spacingAndGlyphs" >MA(9):</text>
<text x="110.0" y="98.0" font-size="18" fill="#4a9fd8" textLength="73.3" lengthAdjust="spacingAndGlyphs" >42558.31</text>
<text x="192.0" y="98.0" font-size="18" fill="#848e9c" textLength="64.5" lengthAdjust="spacingAndGlyphs" >MA(20):</text>
<text x="263.9" y="98.0" font-size="18" fill="#b3222f" textLength="74.3" lengthAdjust="spacingAndGlyphs" >41841.07</text>
<text x="346.5" y="98.0" font-size="18" fill="#848e9c" textLength="63.9" lengthAdjust="spacingAndGlyphs" >MA(40):</text>
<text x="416.7" y="98.0" font-size="18" fill="#d8bd1e" textLength="75.9" lengthAdjust="spacingAndGlyphs" >39774.77</text>
<rect x="499" y="83" width="17" height="17" fill="#292e35"/>
<path d="M501.2 91.7Q504.5 87.10000000000001 507.5 87.10000000000001Q510.5 87.10000000000001 513.8 91.7Q510.5 96.3 507.5 96.3Q504.5 96.3 501.2 91.7Z" fill="none" stroke="#191c21" stroke-width="1.1"/><circle cx="507.5" cy="91.7" r="2.1" fill="none" stroke="#191c21" stroke-width="1.1"/>
<rect x="524" y="83" width="17" height="17" fill="#292e35"/>
<path d="M531.17 86.26L533.83 86.26L534.56 87.93L533.71 87.57L535.41 86.91L537.29 88.79L536.63 90.49L536.27 89.64L537.94 90.37L537.94 93.03L536.27 93.76L536.63 92.91L537.29 94.61L535.41 96.49L533.71 95.83L534.56 95.47L533.83 97.14L531.17 97.14L530.44 95.47L531.29 95.83L529.59 96.49L527.71 94.61L528.37 92.91L528.73 93.76L527.06 93.03L527.06 90.37L528.73 89.64L528.37 90.49L527.71 88.79L529.59 86.91L531.29 87.57L530.44 87.93Z" fill="none" stroke="#191c21" stroke-width="1.1" stroke-linejoin="round"/><circle cx="532.5" cy="91.7" r="1.7" fill="none" stroke="#191c21" stroke-width="1.1"/>
<rect x="549.2" y="83" width="17" height="17" fill="#292e35"/>
<path d="M553.7 87.7L561.7 95.7M561.7 87.7L553.7 95.7" stroke="#191c21" stroke-width="1.1"/>
<path d="M27.5 724.4L34.5 724.4L31.0 728.9Z" fill="#8a93a2" stroke="#8a93a2" stroke-width="0.8" stroke-linejoin="round"/>
<text x="48.5" y="732.4" font-size="18" fill="#848e9c" textLength="77.1" lengthAdjust="spacingAndGlyphs" >Vol(BTC):</text>
<text x="133.2" y="732.4" font-size="18" fill="#9c374a" textLength="55.8" lengthAdjust="spacingAndGlyphs" >4.028K</text>
<text x="196.7" y="732.4" font-size="18" fill="#848e9c" textLength="84.0" lengthAdjust="spacingAndGlyphs" >Vol(USDT)</text>
<text x="289.4" y="732.4" font-size="18" fill="#9c374a" textLength="78.6" lengthAdjust="spacingAndGlyphs" >176.294M</text>
<rect x="375" y="717" width="17" height="17" fill="#292e35"/>
<path d="M377.2 725.7Q380.5 721.1 383.5 721.1Q386.5 721.1 389.8 725.7Q386.5 730.3000000000001 383.5 730.3000000000001Q380.5 730.3000000000001 377.2 725.7Z" fill="none" stroke="#191c21" stroke-width="1.1"/><circle cx="383.5" cy="725.7" r="2.1" fill="none" stroke="#191c21" stroke-width="1.1"/>
<rect x="400" y="717" width="17" height="17" fill="#292e35"/>
<path d="M407.17 720.26L409.83 720.26L410.56 721.93L409.71 721.57L411.41 720.91L413.29 722.79L412.63 724.49L412.27 723.64L413.94 724.37L413.94 727.03L412.27 727.76L412.63 726.91L413.29 728.61L411.41 730.49L409.71 729.83L410.56 729.47L409.83 731.14L407.17 731.14L406.44 729.47L407.29 729.83L405.59 730.49L403.71 728.61L404.37 726.91L404.73 727.76L403.06 727.03L403.06 724.37L404.73 723.64L404.37 724.49L403.71 722.79L405.59 720.91L407.29 721.57L406.44 721.93Z" fill="none" stroke="#191c21" stroke-width="1.1" stroke-linejoin="round"/><circle cx="408.5" cy="725.7" r="1.7" fill="none" stroke="#191c21" stroke-width="1.1"/>
<rect x="425" y="717" width="17" height="17" fill="#292e35"/>
<path d="M429.5 721.7L437.5 729.7M437.5 721.7L429.5 729.7" stroke="#191c21" stroke-width="1.1"/>
<rect x="1836" y="54" width="75" height="858" fill="#161a1e"/>
<rect x="1835" y="711" width="76" height="2" fill="#232730"/>
<text x="1844.6" y="704.3" font-size="15" fill="#59626f" textLength="51.2" lengthAdjust="spacingAndGlyphs" stroke="#59626f" stroke-width="0.3">32000.00</text>
<text x="1844.6" y="659.2" font-size="15" fill="#59626f" textLength="51.2" lengthAdjust="spacingAndGlyphs" stroke="#59626f" stroke-width="0.3">33000.00</text>
<text x="1844.6" y="614.1" font-size="15" fill="#59626f" textLength="51.2" lengthAdjust="spacingAndGlyphs" stroke="#59626f" stroke-width="0.3">34000.00</text>
<text x="1844.6" y="569.0" font-size="15" fill="#59626f" textLength="51.2" lengthAdjust="spacingAndGlyphs" stroke="#59626f" stroke-width="0.3">35000.00</text>
<text x="1844.6" y="523.9" font-size="15" fill="#59626f" textLength="51.2" lengthAdjust="spacingAndGlyphs" stroke="#59626f" stroke-width="0.3">36000.00</text>
<text x="1844.6" y="478.9" font-size="15" fill="#59626f" textLength="51.2" lengthAdjust="spacingAndGlyphs" stroke="#59626f" stroke-width="0.3">37000.00</text>
<text x="1844.6" y="433.8" font-size="15" fill="#59626f" textLength="51.2" lengthAdjust="spacingAndGlyphs" stroke="#59626f" stroke-width="0.3">38000.00</text>
<text x="1844.6" y="388.7" font-size="15" fill="#59626f" textLength="51.2" lengthAdjust="spacingAndGlyphs" stroke="#59626f" stroke-width="0.3">39000.00</text>
<text x="1844.6" y="343.6" font-size="15" fill="#59626f" textLength="51.2" lengthAdjust="spacingAndGlyphs" stroke="#59626f" stroke-width="0.3">40000.00</text>
<text x="1844.6" y="298.5" font-size="15" fill="#59626f" textLength="51.2" lengthAdjust="spacingAndGlyphs" stroke="#59626f" stroke-width="0.3">41000.00</text>
<text x="1844.6" y="253.5" font-size="15" fill="#59626f" textLength="51.2" lengthAdjust="spacingAndGlyphs" stroke="#59626f" stroke-width="0.3">42000.00</text>
<text x="1844.6" y="208.4" font-size="15" fill="#59626f" textLength="51.2" lengthAdjust="spacingAndGlyphs" stroke="#59626f" stroke-width="0.3">43000.00</text>
<text x="1844.6" y="163.3" font-size="15" fill="#59626f" textLength="51.2" lengthAdjust="spacingAndGlyphs" stroke="#59626f" stroke-width="0.3">44000.00</text>
<text x="1844.6" y="118.2" font-size="15" fill="#59626f" textLength="51.2" lengthAdjust="spacingAndGlyphs" stroke="#59626f" stroke-width="0.3">45000.00</text>
<text x="1844.6" y="73.1" font-size="15" fill="#59626f" textLength="51.2" lengthAdjust="spacingAndGlyphs" stroke="#59626f" stroke-width="0.3">46000.00</text>
<text x="1844.6" y="720.7" font-size="14.6" fill="#59626f" textLength="22.0" lengthAdjust="spacingAndGlyphs" stroke="#59626f" stroke-width="0.3">30K</text>
<text x="1844.6" y="750.0" font-size="14.6" fill="#59626f" textLength="22.0" lengthAdjust="spacingAndGlyphs" stroke="#59626f" stroke-width="0.3">24K</text>
<text x="1844.6" y="784.3" font-size="14.6" fill="#59626f" textLength="22.0" lengthAdjust="spacingAndGlyphs" stroke="#59626f" stroke-width="0.3">18K</text>
<text x="1844.6" y="818.6" font-size="14.6" fill="#59626f" textLength="22.0" lengthAdjust="spacingAndGlyphs" stroke="#59626f" stroke-width="0.3">12K</text>
<text x="1844.6" y="852.8" font-size="14.6" fill="#59626f" textLength="15.3" lengthAdjust="spacingAndGlyphs" stroke="#59626f" stroke-width="0.3">6K</text>
<text x="1844.6" y="880.8" font-size="14.6" fill="#59626f" textLength="23.4" lengthAdjust="spacingAndGlyphs" stroke="#59626f" stroke-width="0.3">0.00</text>
<path d="M1836 700.5h6M1836 654.5h6M1836 609.5h6M1836 564.5h6M1836 519.5h6M1836 474.5h6M1836 429.5h6M1836 384.5h6M1836 339.5h6M1836 294.5h6M1836 249.5h6M1836 204.5h6M1836 159.5h6M1836 114.5h6M1836 69.5h6M1836 848.5h6M1836 814.5h6M1836 779.5h6M1836 745.5h6M1836 883.5h6M1836 712h6" stroke="#4b535f" stroke-width="1.7" fill="none"/>
<rect x="1836" y="157.8" width="75" height="23.7" fill="#f6465d"/>
<text x="1846.6" y="173.3" font-size="14.4" fill="#ffffff" textLength="52.2" lengthAdjust="spacingAndGlyphs" >43785.99</text>
<rect x="159" y="884" width="1" height="5.5" fill="#6b7482"/>
<text x="144.7" y="901.9" font-size="14.6" fill="#59626f" textLength="31.0" lengthAdjust="spacingAndGlyphs" stroke="#59626f" stroke-width="0.3">01/12</text>
<rect x="341" y="884" width="1" height="5.5" fill="#6b7482"/>
<text x="326.3" y="901.9" font-size="14.6" fill="#59626f" textLength="31.0" lengthAdjust="spacingAndGlyphs" stroke="#59626f" stroke-width="0.3">01/15</text>
<rect x="522" y="884" width="1" height="5.5" fill="#6b7482"/>
<text x="507.8" y="901.9" font-size="14.6" fill="#59626f" textLength="31.0" lengthAdjust="spacingAndGlyphs" stroke="#59626f" stroke-width="0.3">01/18</text>
<rect x="704" y="884" width="1" height="5.5" fill="#6b7482"/>
<text x="689.4" y="901.9" font-size="14.6" fill="#59626f" textLength="31.0" lengthAdjust="spacingAndGlyphs" stroke="#59626f" stroke-width="0.3">01/21</text>
<rect x="885" y="884" width="1" height="5.5" fill="#6b7482"/>
<text x="870.9" y="901.9" font-size="14.6" fill="#59626f" textLength="31.0" lengthAdjust="spacingAndGlyphs" stroke="#59626f" stroke-width="0.3">01/24</text>
<rect x="1067" y="884" width="1" height="5.5" fill="#6b7482"/>
<text x="1052.5" y="901.9" font-size="14.6" fill="#59626f" textLength="31.0" lengthAdjust="spacingAndGlyphs" stroke="#59626f" stroke-width="0.3">01/27</text>
<rect x="1249" y="884" width="1" height="5.5" fill="#6b7482"/>
<text x="1234.0" y="901.9" font-size="14.6" fill="#59626f" textLength="31.0" lengthAdjust="spacingAndGlyphs" stroke="#59626f" stroke-width="0.3">01/30</text>
<rect x="1491" y="884" width="1" height="5.5" fill="#6b7482"/>
<text x="1476.1" y="901.9" font-size="14.6" fill="#59626f" textLength="31.0" lengthAdjust="spacingAndGlyphs" stroke="#59626f" stroke-width="0.3">02/03</text>
<rect x="1672" y="884" width="1" height="5.5" fill="#6b7482"/>
<text x="1657.6" y="901.9" font-size="14.6" fill="#59626f" textLength="31.0" lengthAdjust="spacingAndGlyphs" stroke="#59626f" stroke-width="0.3">02/06</text>
<rect x="-5" y="792.5" width="16" height="39" rx="3.5" fill="#10121b" stroke="#3a3e4a" stroke-width="1"/>
<path d="M1.2 807.8L4.8 811.2L1.2 814.6" stroke="#aeb4bf" stroke-width="1.1" fill="none"/>
<rect x="12" y="838" width="63" height="63" rx="9" fill="#6aa9e6"/>
<path d="M42.8 843C37.5 846.6 31 848.8 24.8 850.6C24.2 864 30 880.5 42.8 888.2C55.6 880.5 61.4 864 60.8 850.6C54.6 848.8 48.1 846.6 42.8 843Z" fill="#ffffff"/>
<path d="M37.4 865.2L42 869.8L50 860.6" stroke="#6aa9e6" stroke-width="2" fill="none"/>
</svg></body></html>
